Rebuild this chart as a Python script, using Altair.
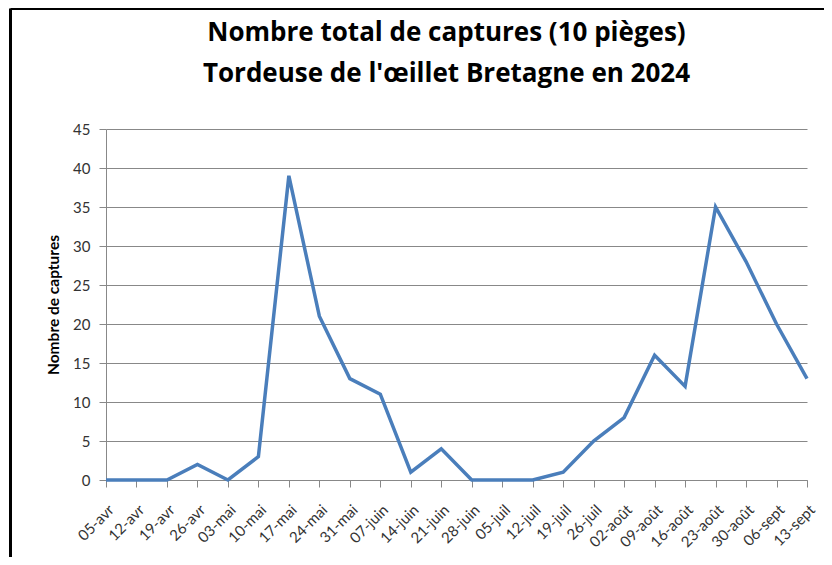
import altair as alt
import pandas as pd

dates = ["05-avr", "12-avr", "19-avr", "26-avr", "03-mai", "10-mai", "17-mai", "24-mai",
         "31-mai", "07-juin", "14-juin", "21-juin", "28-juin", "05-juil", "12-juil", "19-juil",
         "26-juil", "02-août", "09-août", "16-août", "23-août", "30-août", "06-sept", "13-sept"]
captures = [0, 0, 0, 2, 0, 3, 39, 21, 13, 11, 1, 4, 0, 0, 0, 1, 5, 8, 16, 12, 35, 28, 20, 13]
y_ticks = [0, 5, 10, 15, 20, 25, 30, 35, 40, 45]

df = pd.DataFrame({"date": dates, "captures": captures})
FONT = "Lato"

line = alt.Chart(df).mark_line(color="#4A7EBB", strokeWidth=3.5).encode(
    x=alt.X("date:N", sort=dates, scale=alt.Scale(type="point", padding=0),
            axis=alt.Axis(title=None, labelAngle=-45, labelFont=FONT, labelFontSize=15,
                          labelColor="#333333", tickSize=7, tickColor="#888888",
                          domainColor="#888888", labelPadding=15, grid=False)),
    y=alt.Y("captures:Q", scale=alt.Scale(domain=[0, 45], nice=False),
            axis=alt.Axis(title="Nombre de captures", values=y_ticks, labelFont=FONT,
                          labelFontSize=15, labelColor="#333333", tickSize=7,
                          tickColor="#888888", domainColor="#888888", gridColor="#888888",
                          labelPadding=9, titleFont=FONT, titleFontSize=15.5,
                          titleFontWeight="bold", titleColor="#000000", titlePadding=11)),
)

frame_df = pd.DataFrame({"k": [0]})
top_rule = alt.Chart(frame_df).mark_rule(color="#000000", strokeWidth=3).encode(
    x=alt.value(-95.5), x2=alt.value(900), y=alt.value(-120.5))
left_rule = alt.Chart(frame_df).mark_rule(color="#000000", strokeWidth=3).encode(
    x=alt.value(-95.5), y=alt.value(-120.5), y2=alt.value(700))

chart = alt.layer(line, top_rule, left_rule).properties(
    width=701, height=351,
    title=alt.TitleParams(
        ["Nombre total de captures (10 pièges)", "Tordeuse de l'œillet Bretagne en 2024"],
        font="Open Sans", fontSize=26, fontWeight="bold", color="#000000", lineHeight=41,
        anchor="middle", frame="group", dx=-10, offset=-80),
    autosize=alt.AutoSizeParams(type="none"),
    padding={"left": 98, "top": 121, "right": 17, "bottom": 77},
).configure_view(stroke=None)

chart.save("out.html", embed_options={"renderer": "svg", "actions": False})
